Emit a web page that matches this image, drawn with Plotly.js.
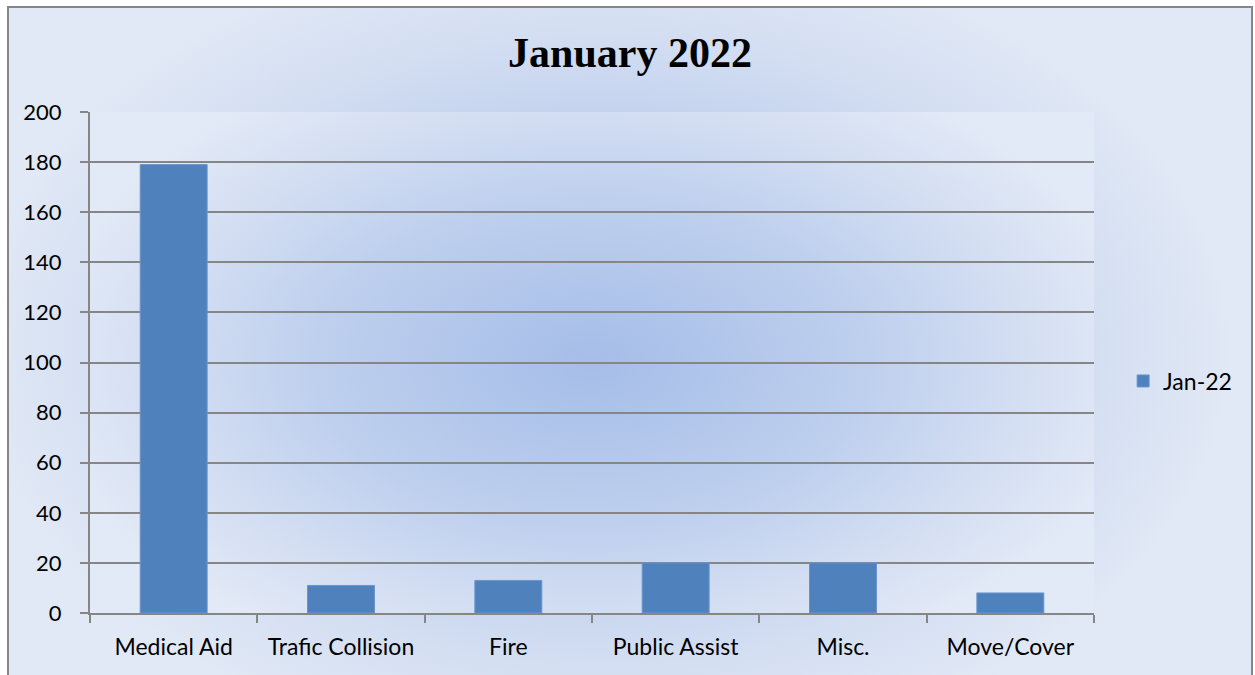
<!DOCTYPE html>
<html>
<head>
<meta charset="utf-8">
<script src="https://cdn.plot.ly/plotly-3.0.1.min.js"></script>
<style>
  html, body { margin: 0; padding: 0; width: 1255px; height: 675px; overflow: hidden; background: #ffffff; }
  #frame { position: absolute; left: 7px; top: 6px; width: 1246px; height: 675px; box-sizing: border-box;
    border: 2px solid #868686;
    background: radial-gradient(ellipse 640px 420px at 595px 340px, #a3bbe7 0%, #bccdec 45%, #d3def2 75%, #e2e9f6 100%); }
  #plotbg { position: absolute; left: 90px; top: 112px; width: 1004px; height: 501px;
    background: radial-gradient(ellipse 560px 330px at 502px 250px, #a5bde8 0%, #bfd0ee 50%, #d6e0f3 80%, #e3eaf7 100%); }
  #chart { position: absolute; left: 0; top: 0; width: 1255px; height: 675px; }
</style>
</head>
<body>
<div id="frame"></div>
<div id="plotbg"></div>
<div id="chart"></div>
<script>
const categories = ["Medical Aid", "Trafic Collision", "Fire", "Public Assist", "Misc.", "Move/Cover"];
const seriesName = "Jan-22";
const values = [179, 11, 13, 20, 20, 8];
const yTicks = [0, 20, 40, 60, 80, 100, 120, 140, 160, 180, 200];
const chartTitle = "January 2022";

const yFont = { family: "Lato, Liberation Sans, sans-serif", size: 22, color: "#000000" };
const xFont = { family: "Lato, Liberation Sans, sans-serif", size: 23, color: "#000000" };

const trace = {
  type: "bar",
  x: categories,
  y: values,
  name: seriesName,
  marker: { color: "#4f81bd", line: { color: "#6a95cc", width: 1 } },
  showlegend: true,
  hoverinfo: "x+y"
};

const layout = {
  width: 1255,
  height: 675,
  paper_bgcolor: "rgba(0,0,0,0)",
  plot_bgcolor: "rgba(0,0,0,0)",
  margin: { l: 90, r: 161, t: 112, b: 62, pad: 0 },
  title: {
    text: "<b>" + chartTitle + "</b>",
    x: 630 / 1255, xref: "container", xanchor: "center",
    y: 1 - 52 / 675, yref: "container", yanchor: "middle",
    font: { family: "Liberation Serif, DejaVu Serif, serif", size: 42, color: "#000000" }
  },
  bargap: 0.6,
  showlegend: true,
  legend: {
    x: 1.029, xanchor: "left", y: (613 - 381) / 501, yanchor: "middle",
    font: xFont,
    bgcolor: "rgba(0,0,0,0)",
    itemwidth: 30
  },
  xaxis: {
    type: "category",
    showgrid: false,
    showline: true, linecolor: "#868686", linewidth: 2,
    ticks: "outside", tickson: "boundaries", ticklen: 8, tickcolor: "#868686", tickwidth: 2,
    ticklabelstandoff: 12,
    tickfont: xFont,
    zeroline: false,
    automargin: false
  },
  yaxis: {
    range: [0, 200],
    tickvals: yTicks,
    ticktext: yTicks.map(String),
    showgrid: true, gridcolor: "#868686", gridwidth: 2,
    showline: true, linecolor: "#868686", linewidth: 2,
    ticks: "outside", ticklen: 8, tickcolor: "#868686", tickwidth: 2,
    ticklabelstandoff: 14,
    tickfont: yFont,
    zeroline: false,
    automargin: false
  }
};

Plotly.newPlot("chart", [trace], layout, { displayModeBar: false, staticPlot: true });
</script>
</body>
</html>
